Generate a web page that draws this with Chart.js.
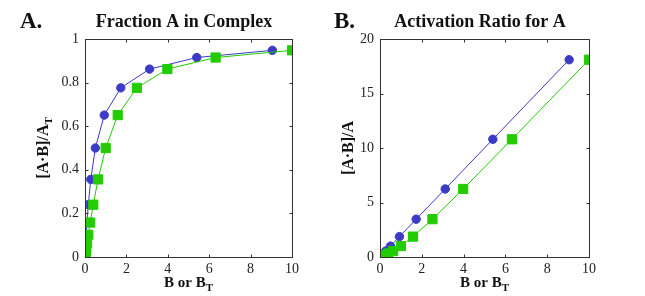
<!DOCTYPE html>
<html><head><meta charset="utf-8">
<script src="https://cdn.jsdelivr.net/npm/chart.js@4/dist/chart.umd.min.js"></script>
<style>
html,body{margin:0;padding:0;background:#fff;width:645px;height:296px;overflow:hidden}
#a{position:absolute;left:0;top:0}
#b{position:absolute;left:322px;top:0}
</style></head><body>
<canvas id="a" width="322" height="296"></canvas>
<canvas id="b" width="323" height="296"></canvas>
<script>
// Data
const totalB   = [10, 6.31, 3.98, 2.51, 1.58, 1.0, 0.63, 0.40, 0.25, 0.16, 0.10, 0.063, 0.04, 0.025, 0.016, 0.01];
const freeB    = [9.05, 5.40, 3.12, 1.73, 0.93, 0.50, 0.28, 0.16, 0.094, 0.057, 0.035, 0.022, 0.014, 0.008, 0.005, 0.003];
const fraction = [0.948, 0.915, 0.862, 0.776, 0.651, 0.50, 0.356, 0.240, 0.158, 0.102, 0.065, 0.041, 0.026, 0.017, 0.011, 0.007];
const ratio    = [18.1, 10.8, 6.24, 3.47, 1.87, 1.0, 0.55, 0.32, 0.19, 0.11, 0.07, 0.043, 0.027, 0.017, 0.011, 0.007];
const xTicks   = [0, 2, 4, 6, 8, 10];
const yTicksA  = [0, 0.2, 0.4, 0.6, 0.8, 1];
const yTicksB  = [0, 5, 10, 15, 20];

const BLUE = '#3b3bc6', GREEN = '#22cc00';
const SERIF = '"Liberation Serif","Times New Roman",serif';

function pts(xs, ys){ return xs.map((x,i)=>({x:x,y:ys[i]})); }

function decor(opts){
  return {
    id:'decor',
    afterDraw(chart){
      const ctx = chart.ctx, ca = chart.chartArea;
      const xs = chart.scales.x, ys = chart.scales.y;
      ctx.save();
      ctx.strokeStyle = '#333'; ctx.lineWidth = 1;
      const l = Math.round(ca.left)+0.5, r = Math.round(ca.right)+0.5, t = Math.round(ca.top)+0.5, b = Math.round(ca.bottom)+0.5;
      ctx.strokeRect(l, t, r-l, b-t);
      ctx.beginPath();
      opts.xt.forEach(v=>{ const p = Math.round(xs.getPixelForValue(v))+0.5; ctx.moveTo(p,b); ctx.lineTo(p,b-3); ctx.moveTo(p,t); ctx.lineTo(p,t+3); });
      opts.yt.forEach(v=>{ const p = Math.round(ys.getPixelForValue(v))+0.5; ctx.moveTo(l,p); ctx.lineTo(l+3,p); ctx.moveTo(r,p); ctx.lineTo(r-3,p); });
      ctx.stroke();
      ctx.fillStyle = '#111';
      ctx.font = 'bold 23px ' + SERIF; ctx.textAlign='left'; ctx.textBaseline='alphabetic';
      ctx.fillText(opts.letter, opts.letterX, 28);
      ctx.font = 'bold 18px ' + SERIF; ctx.textAlign='center';
      ctx.fillText(opts.title, opts.titleX, 27);
      // x title with subscript
      ctx.font = 'bold 15px ' + SERIF;
      const main = 'B or B', w1 = ctx.measureText(main).width;
      ctx.font = 'bold 11px ' + SERIF;
      const w2 = ctx.measureText('T').width;
      const cx = (ca.left+ca.right)/2, x0 = cx - (w1+w2)/2;
      ctx.textAlign='left';
      ctx.font = 'bold 15px ' + SERIF; ctx.fillText(main, x0, 287);
      ctx.font = 'bold 11px ' + SERIF; ctx.fillText('T', x0+w1, 291);
      // y title rotated
      ctx.translate(opts.yTitleX, (ca.top+ca.bottom)/2);
      ctx.rotate(-Math.PI/2);
      ctx.font = 'bold 16px ' + SERIF;
      const ym = opts.yTitle, yw1 = ctx.measureText(ym).width;
      ctx.font = 'bold 11px ' + SERIF;
      const yw2 = opts.ySub ? ctx.measureText(opts.ySub).width : 0;
      const y0 = -(yw1+yw2)/2;
      ctx.font = 'bold 16px ' + SERIF; ctx.fillText(ym, y0, 0);
      if (opts.ySub){ ctx.font = 'bold 11px ' + SERIF; ctx.fillText(opts.ySub, y0+yw1, 4); }
      ctx.restore();
    }
  };
}

function makeChart(id, yData, yTicks, yMax, yw, padRight, dec){
  const tickFont = {family: SERIF, size: 14};
  return new Chart(document.getElementById(id), {
    type:'line',
    data:{ datasets:[
      { data: pts(totalB, yData), borderColor: GREEN, backgroundColor: GREEN, borderWidth: 1,
        pointStyle:'rect', pointRadius: 6.5, pointBorderWidth: 1, pointBorderColor: GREEN, pointBackgroundColor: GREEN, order: 0 },
      { data: pts(freeB, yData), borderColor: BLUE, backgroundColor: BLUE, borderWidth: 1,
        pointStyle:'circle', pointRadius: 4.2, pointBorderWidth: 1, pointBorderColor: BLUE, pointBackgroundColor: BLUE, order: 1 }
    ]},
    options:{
      responsive:false, animation:false, devicePixelRatio:1,
      layout:{ padding:{ left:0, right:padRight, top:39, bottom:0 } },
      plugins:{ legend:{display:false}, tooltip:{enabled:false} },
      elements:{ line:{ tension:0 } },
      scales:{
        x:{ type:'linear', min:0, max:10,
            afterBuildTicks(s){ s.ticks = xTicks.map(v=>({value:v})); },
            afterFit(s){ s.height = 39; },
            grid:{display:false, drawTicks:false}, border:{display:false},
            ticks:{ font: tickFont, color:'#222', padding:4, maxRotation:0, autoSkip:false } },
        y:{ type:'linear', min:0, max:yMax,
            afterBuildTicks(s){ s.ticks = yTicks.map(v=>({value:v})); },
            afterFit(s){ s.width = yw; },
            grid:{display:false, drawTicks:false}, border:{display:false},
            ticks:{ font: tickFont, color:'#222', padding:6, autoSkip:false,
                    callback:(v)=>String(+v.toFixed(2)) } }
      }
    },
    plugins:[decor(dec)]
  });
}

makeChart('a', fraction, yTicksA, 1, 85, 30,
  {letter:'A.', letterX:20, title:'Fraction A in Complex', titleX:184, yTitle:'[A\u00B7B]/A', ySub:'T', yTitleX:48, xt:xTicks, yt:yTicksA});
makeChart('b', ratio, yTicksB, 20, 58, 56,
  {letter:'B.', letterX:12, title:'Activation Ratio for A', titleX:158, yTitle:'[A\u00B7B]/A', ySub:'', yTitleX:31, xt:xTicks, yt:yTicksB});
</script>
</body></html>
